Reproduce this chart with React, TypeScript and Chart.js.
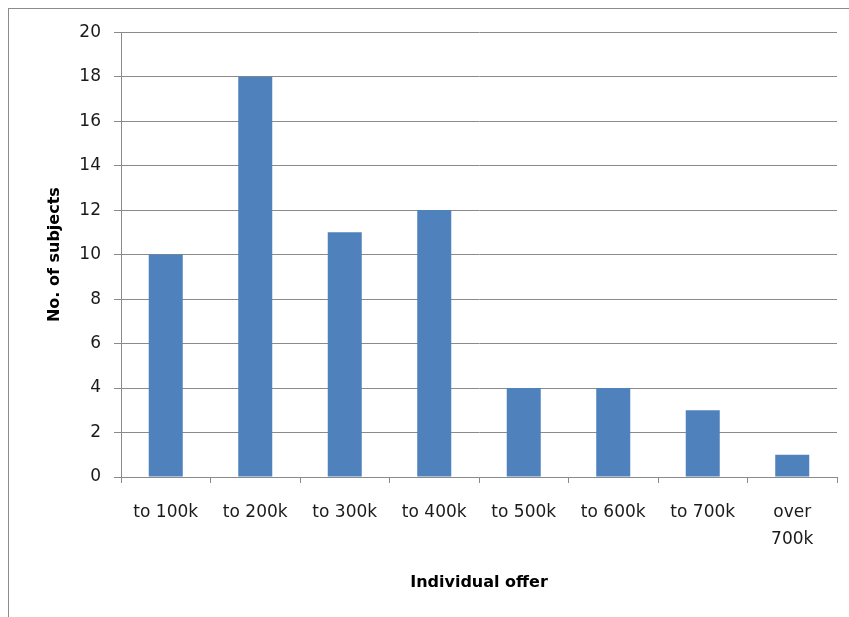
import React, { useEffect, useRef } from "react";
import { Chart, registerables } from "chart.js";

Chart.register(...registerables);

const categories: (string | string[])[] = [
  "to 100k",
  "to 200k",
  "to 300k",
  "to 400k",
  "to 500k",
  "to 600k",
  "to 700k",
  ["over", "700k"],
];
const subjects = [10, 18, 11, 12, 4, 4, 3, 1];
const yTitle = "No. of subjects";
const xTitle = "Individual offer";

const GRID = "#8a8a8a";
const FONT = "'DejaVu Sans', Verdana, sans-serif";

export default function App() {
  const ref = useRef<HTMLCanvasElement | null>(null);

  useEffect(() => {
    if (!ref.current) return;
    const chart = new Chart(ref.current, {
      type: "bar",
      data: {
        labels: categories,
        datasets: [
          {
            data: subjects,
            backgroundColor: "#4f81bd",
            borderWidth: 0,
            barPercentage: 0.38,
            categoryPercentage: 1,
          },
        ],
      },
      options: {
        animation: false,
        responsive: false,
        devicePixelRatio: 1,
        layout: { padding: { top: 23, right: 12, left: 0, bottom: 0 } },
        plugins: { legend: { display: false }, tooltip: { enabled: false } },
        scales: {
          x: {
            afterFit: (s: any) => {
              s.height = 140;
            },
            grid: {
              display: true,
              drawOnChartArea: false,
              drawTicks: true,
              tickLength: 6,
              color: GRID,
              offset: true,
            },
            border: { display: true, color: GRID, width: 1 },
            ticks: {
              color: "#1a1a1a",
              font: { family: FONT, size: 17, lineHeight: 1.6 },
              padding: 16,
              maxRotation: 0,
              autoSkip: false,
            },
            title: {
              display: true,
              text: xTitle,
              color: "#000",
              font: { family: FONT, size: 16, weight: "bold" },
              padding: { top: 0, bottom: 25 },
            },
          },
          y: {
            min: 0,
            max: 20,
            afterFit: (s: any) => {
              s.width = 112;
            },
            grid: {
              color: GRID,
              tickLength: 7,
              drawTicks: true,
            },
            border: { display: true, color: GRID, width: 1 },
            ticks: {
              stepSize: 2,
              color: "#1a1a1a",
              font: { family: FONT, size: 17 },
              padding: 13,
            },
            title: {
              display: true,
              text: yTitle,
              color: "#000",
              font: { family: FONT, size: 16, weight: "bold" },
              padding: { top: 36, bottom: 0 },
            },
          },
        },
      },
    });
    return () => chart.destroy();
  }, []);

  return (
    <div
      style={{
        position: "fixed",
        left: 8,
        top: 8,
        width: 841,
        height: 609,
        borderTop: "1px solid #8c8c8c",
        borderLeft: "1px solid #8c8c8c",
        background: "#fff",
        overflow: "hidden",
      }}
    >
      <canvas ref={ref} width={840} height={608} style={{ display: "block" }} />
    </div>
  );
}
